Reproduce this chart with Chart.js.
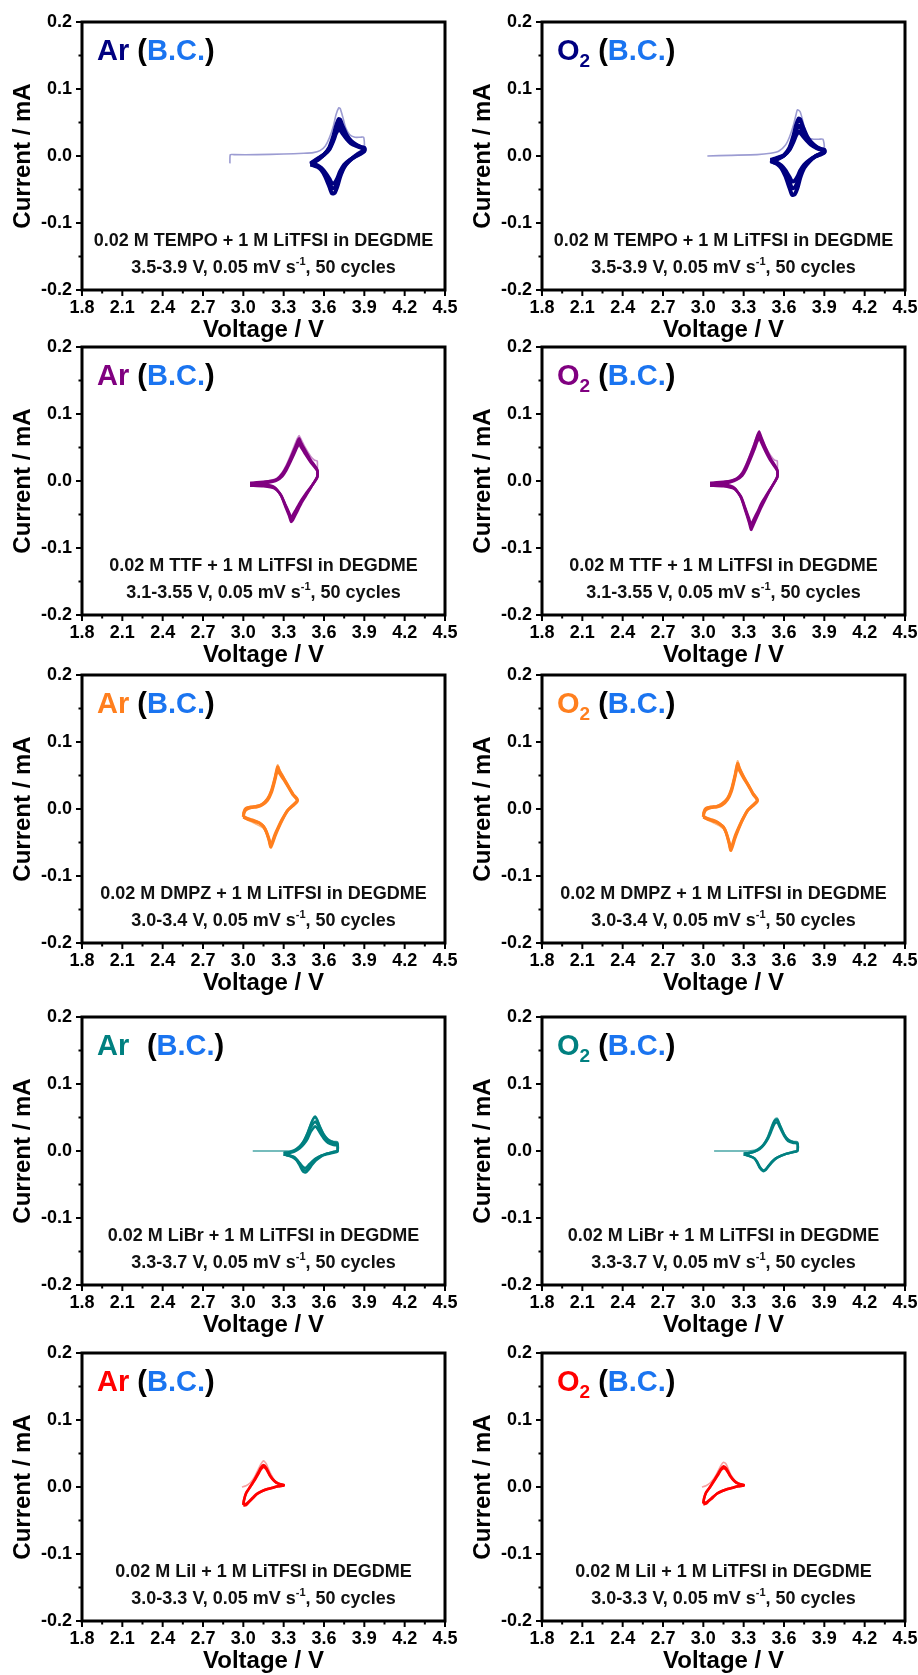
<!DOCTYPE html>
<html>
<head>
<meta charset="utf-8">
<title>CV of redox mediators under Ar and O2</title>
<script src="https://cdn.jsdelivr.net/npm/chart.js@4.4.1/dist/chart.umd.min.js"></script>
<style>
  html, body { margin: 0; padding: 0; background: #fff; }
  #grid { position: relative; width: 918px; height: 1675px; overflow: hidden; }
  .cell { position: absolute; width: 459px; height: 345px; }
  .cell canvas { display: block; }
</style>
</head>
<body>
<div id="grid"></div>
<script>
const FONT = "'Liberation Sans', Arial, Helvetica, sans-serif";

// Axis ticks shared by all ten panels
const xTicks = [1.8, 2.1, 2.4, 2.7, 3.0, 3.3, 3.6, 3.9, 4.2, 4.5];
const xMinorTicks = [1.95, 2.25, 2.55, 2.85, 3.15, 3.45, 3.75, 4.05, 4.35];
const yTicks = [-0.2, -0.1, 0.0, 0.1, 0.2];
const yMinorTicks = [-0.15, -0.05, 0.05, 0.15];

// One row per mediator, one column per gas
const mediators = ['TEMPO', 'TTF', 'DMPZ', 'LiBr', 'LiI'];
const sweepWindows = ['3.5-3.9 V', '3.1-3.55 V', '3.0-3.4 V', '3.3-3.7 V', '3.0-3.3 V'];
const gases = ['Ar', 'O2'];
const darkColors = ['#000080', '#800080', '#ff7f1e', '#008080', '#ff0000'];
const lightColors = ['#9c9cd2', '#c88ec8', '#fbb47c', '#4aa6a6', '#f7a0a0'];
const bcColor = '#1a74f0';

// ---- TEMPO, 3.5-3.9 V (forward sweep then reverse sweep) ----
const tempoLoopV = [3.50, 3.53, 3.56, 3.60, 3.64, 3.67, 3.69, 3.71, 3.72, 3.74, 3.77, 3.80, 3.84, 3.88, 3.90,
                    3.90, 3.87, 3.83, 3.79, 3.75, 3.72, 3.70, 3.68, 3.66, 3.64, 3.61, 3.58, 3.55, 3.52, 3.50];
const tempoArCycles = [
  [-0.013, -0.009, -0.005, 0.002, 0.013, 0.030, 0.045, 0.055, 0.054, 0.044, 0.031, 0.023, 0.017, 0.013, 0.012,
   0.009, 0.005, 0.000, -0.007, -0.017, -0.031, -0.045, -0.055, -0.056, -0.046, -0.031, -0.021, -0.016, -0.014, -0.013],
  [-0.012, -0.008, -0.004, 0.002, 0.011, 0.026, 0.039, 0.047, 0.046, 0.038, 0.028, 0.021, 0.016, 0.013, 0.012,
   0.008, 0.004, -0.001, -0.007, -0.015, -0.027, -0.039, -0.047, -0.048, -0.040, -0.028, -0.019, -0.015, -0.013, -0.012],
  [-0.011, -0.007, -0.003, 0.002, 0.010, 0.023, 0.034, 0.040, 0.039, 0.033, 0.025, 0.019, 0.015, 0.012, 0.011,
   0.007, 0.003, -0.001, -0.006, -0.013, -0.023, -0.033, -0.040, -0.041, -0.034, -0.025, -0.018, -0.014, -0.012, -0.011]
];
const tempoArFirstV = [2.90, 2.903, 2.93, 3.10, 3.30, 3.45, 3.52, 3.57, 3.61, 3.64, 3.67, 3.69, 3.71, 3.72, 3.74, 3.76, 3.79, 3.83, 3.87, 3.895, 3.90, 3.88, 3.84];
const tempoArFirstI = [-0.011, 0.002, 0.002, 0.002, 0.003, 0.004, 0.005, 0.008, 0.015, 0.027, 0.045, 0.062, 0.072, 0.071, 0.058, 0.043, 0.032, 0.028, 0.028, 0.028, 0.014, 0.009, 0.004];
const tempoO2Cycles = [
  [-0.008, -0.006, -0.004, 0.001, 0.012, 0.030, 0.046, 0.056, 0.055, 0.044, 0.030, 0.021, 0.014, 0.010, 0.009,
   0.006, 0.003, -0.001, -0.008, -0.018, -0.033, -0.048, -0.057, -0.058, -0.047, -0.030, -0.018, -0.012, -0.009, -0.008],
  [-0.007, -0.005, -0.003, 0.001, 0.010, 0.025, 0.038, 0.045, 0.044, 0.036, 0.026, 0.019, 0.013, 0.010, 0.009,
   0.006, 0.003, -0.001, -0.007, -0.015, -0.027, -0.039, -0.047, -0.048, -0.039, -0.026, -0.016, -0.011, -0.009, -0.007],
  [-0.006, -0.004, -0.002, 0.001, 0.009, 0.021, 0.031, 0.036, 0.035, 0.030, 0.023, 0.017, 0.012, 0.009, 0.008,
   0.005, 0.002, -0.001, -0.006, -0.013, -0.022, -0.031, -0.037, -0.038, -0.031, -0.021, -0.014, -0.010, -0.008, -0.006]
];
const tempoO2FirstV = [3.03, 3.20, 3.40, 3.50, 3.56, 3.61, 3.64, 3.67, 3.69, 3.70, 3.72, 3.74, 3.76, 3.78, 3.82, 3.86, 3.89, 3.90, 3.88, 3.84];
const tempoO2FirstI = [0.000, 0.001, 0.002, 0.004, 0.007, 0.016, 0.028, 0.046, 0.062, 0.069, 0.066, 0.052, 0.036, 0.027, 0.025, 0.025, 0.025, 0.012, 0.007, 0.002];

// ---- TTF, 3.05-3.55 V ----
const ttfLoopV = [3.05, 3.10, 3.15, 3.20, 3.25, 3.29, 3.32, 3.35, 3.38, 3.40, 3.415, 3.43, 3.46, 3.50, 3.55,
                  3.55, 3.52, 3.49, 3.46, 3.43, 3.41, 3.39, 3.37, 3.355, 3.34, 3.31, 3.28, 3.23, 3.15, 3.05];
const ttfArCycles = [
  [-0.003, -0.002, -0.001, 0.000, 0.003, 0.011, 0.021, 0.034, 0.048, 0.058, 0.064, 0.057, 0.046, 0.032, 0.017,
   0.007, -0.004, -0.014, -0.024, -0.034, -0.042, -0.050, -0.058, -0.061, -0.052, -0.037, -0.022, -0.009, -0.005, -0.004],
  [-0.004, -0.003, -0.002, -0.001, 0.002, 0.009, 0.019, 0.031, 0.044, 0.054, 0.059, 0.053, 0.043, 0.030, 0.016,
   0.006, -0.004, -0.013, -0.022, -0.031, -0.039, -0.046, -0.054, -0.057, -0.049, -0.035, -0.021, -0.010, -0.006, -0.005],
  [-0.006, -0.005, -0.004, -0.002, 0.001, 0.007, 0.016, 0.028, 0.041, 0.050, 0.055, 0.050, 0.040, 0.028, 0.015,
   0.005, -0.004, -0.012, -0.020, -0.029, -0.036, -0.043, -0.050, -0.054, -0.047, -0.034, -0.021, -0.011, -0.008, -0.007]
];
const ttfFirstV = [3.05, 3.15, 3.25, 3.29, 3.32, 3.35, 3.38, 3.40, 3.415, 3.43, 3.46, 3.50, 3.53, 3.55, 3.55];
const ttfArFirstI = [-0.002, -0.001, 0.004, 0.013, 0.024, 0.038, 0.053, 0.063, 0.068, 0.062, 0.050, 0.037, 0.031, 0.030, 0.010];
const ttfO2Cycles = [
  [-0.003, -0.002, -0.001, 0.000, 0.004, 0.012, 0.024, 0.039, 0.055, 0.067, 0.074, 0.066, 0.051, 0.034, 0.017,
   0.007, -0.005, -0.016, -0.028, -0.040, -0.049, -0.058, -0.067, -0.073, -0.062, -0.043, -0.025, -0.010, -0.005, -0.004],
  [-0.004, -0.003, -0.002, -0.001, 0.003, 0.010, 0.021, 0.036, 0.051, 0.063, 0.069, 0.062, 0.048, 0.032, 0.016,
   0.006, -0.005, -0.015, -0.026, -0.037, -0.046, -0.055, -0.063, -0.069, -0.059, -0.041, -0.024, -0.011, -0.006, -0.005],
  [-0.006, -0.005, -0.004, -0.002, 0.002, 0.008, 0.018, 0.032, 0.047, 0.058, 0.064, 0.058, 0.045, 0.030, 0.015,
   0.005, -0.005, -0.014, -0.024, -0.034, -0.043, -0.051, -0.059, -0.065, -0.056, -0.039, -0.023, -0.012, -0.008, -0.007]
];
const ttfO2FirstI = [-0.002, -0.001, 0.004, 0.014, 0.026, 0.041, 0.057, 0.068, 0.072, 0.066, 0.052, 0.038, 0.031, 0.030, 0.010];

// ---- DMPZ, 3.0-3.4 V ----
const dmpzLoopV = [3.00, 3.005, 3.02, 3.06, 3.10, 3.14, 3.18, 3.21, 3.235, 3.255, 3.27, 3.30, 3.34, 3.37, 3.40,
                   3.40, 3.37, 3.33, 3.29, 3.26, 3.235, 3.205, 3.19, 3.17, 3.15, 3.12, 3.09, 3.06, 3.03, 3.00];
const dmpzArCycles = [
  [-0.011, -0.004, 0.001, 0.003, 0.004, 0.007, 0.015, 0.028, 0.046, 0.063, 0.056, 0.046, 0.032, 0.022, 0.015,
   0.012, 0.006, -0.002, -0.016, -0.029, -0.041, -0.057, -0.046, -0.034, -0.026, -0.021, -0.018, -0.016, -0.014, -0.011],
  [-0.012, -0.006, -0.001, 0.002, 0.003, 0.006, 0.013, 0.025, 0.043, 0.059, 0.053, 0.044, 0.031, 0.021, 0.014,
   0.011, 0.005, -0.002, -0.015, -0.027, -0.038, -0.054, -0.044, -0.033, -0.026, -0.021, -0.019, -0.017, -0.015, -0.012]
];
const dmpzArFirstI = [-0.008, -0.002, 0.002, 0.004, 0.005, 0.008, 0.016, 0.030, 0.049, 0.066, 0.059, 0.048, 0.033, 0.023, 0.016,
                      0.013, 0.007, -0.001, -0.015, -0.028, -0.040, -0.056, -0.047, -0.036, -0.029, -0.025, -0.022, -0.019, -0.016, -0.013];
const dmpzO2Cycles = [
  [-0.011, -0.004, 0.001, 0.003, 0.004, 0.008, 0.016, 0.030, 0.050, 0.068, 0.060, 0.048, 0.034, 0.023, 0.015,
   0.012, 0.006, -0.002, -0.017, -0.031, -0.044, -0.062, -0.050, -0.036, -0.027, -0.022, -0.018, -0.016, -0.014, -0.011],
  [-0.012, -0.006, -0.001, 0.002, 0.003, 0.006, 0.014, 0.027, 0.047, 0.064, 0.057, 0.046, 0.033, 0.022, 0.014,
   0.011, 0.005, -0.002, -0.016, -0.029, -0.041, -0.059, -0.048, -0.035, -0.027, -0.022, -0.019, -0.017, -0.015, -0.012]
];
const dmpzO2FirstI = [-0.008, -0.002, 0.002, 0.004, 0.005, 0.009, 0.017, 0.032, 0.053, 0.072, 0.063, 0.050, 0.035, 0.024, 0.016,
                      0.013, 0.007, -0.001, -0.016, -0.030, -0.043, -0.061, -0.051, -0.038, -0.030, -0.025, -0.022, -0.019, -0.016, -0.013];

// ---- LiBr, 3.3-3.7 V ----
const libRLoopV = [3.30, 3.34, 3.38, 3.42, 3.45, 3.48, 3.50, 3.52, 3.535, 3.55, 3.57, 3.60, 3.63, 3.67, 3.70,
                   3.70, 3.66, 3.62, 3.58, 3.54, 3.51, 3.485, 3.465, 3.445, 3.42, 3.40, 3.38, 3.35, 3.32, 3.30];
const libRArCycles = [
  [-0.003, -0.002, 0.001, 0.007, 0.015, 0.028, 0.039, 0.048, 0.051, 0.046, 0.036, 0.024, 0.017, 0.013, 0.012,
   0.001, -0.002, -0.004, -0.008, -0.014, -0.021, -0.028, -0.032, -0.031, -0.022, -0.015, -0.011, -0.008, -0.006, -0.005],
  [-0.003, -0.002, 0.000, 0.006, 0.013, 0.024, 0.034, 0.041, 0.044, 0.040, 0.032, 0.021, 0.015, 0.011, 0.010,
   0.000, -0.002, -0.004, -0.007, -0.013, -0.019, -0.025, -0.029, -0.028, -0.020, -0.014, -0.010, -0.007, -0.006, -0.005],
  [-0.004, -0.003, -0.001, 0.004, 0.010, 0.019, 0.028, 0.034, 0.037, 0.034, 0.027, 0.018, 0.012, 0.009, 0.008,
   -0.001, -0.003, -0.005, -0.007, -0.011, -0.016, -0.021, -0.025, -0.024, -0.018, -0.013, -0.009, -0.007, -0.006, -0.005]
];
const libRArFirstV = [3.07, 3.15, 3.25, 3.30, 3.34, 3.38, 3.42, 3.45, 3.48, 3.50, 3.52, 3.535, 3.55, 3.57, 3.60, 3.63, 3.67, 3.70, 3.70];
const libRArFirstI = [0.000, 0.000, 0.000, 0.000, 0.000, 0.002, 0.008, 0.016, 0.029, 0.040, 0.049, 0.052, 0.048, 0.037, 0.025, 0.018, 0.014, 0.014, 0.003];
const libRO2Cycles = [
  [-0.004, -0.003, -0.001, 0.004, 0.010, 0.020, 0.030, 0.041, 0.046, 0.047, 0.038, 0.025, 0.017, 0.013, 0.012,
   0.001, -0.002, -0.004, -0.007, -0.011, -0.017, -0.023, -0.028, -0.030, -0.025, -0.017, -0.011, -0.008, -0.006, -0.005],
  [-0.004, -0.003, -0.001, 0.003, 0.009, 0.018, 0.027, 0.037, 0.042, 0.043, 0.035, 0.023, 0.015, 0.012, 0.011,
   0.000, -0.002, -0.004, -0.007, -0.011, -0.016, -0.022, -0.027, -0.029, -0.024, -0.016, -0.011, -0.008, -0.006, -0.005]
];
const libRO2FirstV = [3.08, 3.15, 3.25, 3.30, 3.34, 3.38, 3.42, 3.45, 3.48, 3.50, 3.52, 3.535, 3.55, 3.57, 3.60, 3.63, 3.67, 3.70, 3.70];
const libRO2FirstI = [0.000, 0.000, 0.000, 0.000, 0.000, 0.001, 0.005, 0.011, 0.022, 0.033, 0.043, 0.048, 0.049, 0.040, 0.026, 0.018, 0.014, 0.014, 0.003];

// ---- LiI, 3.0-3.3 V ----
const liILoopV = [3.00, 3.005, 3.02, 3.05, 3.08, 3.11, 3.13, 3.15, 3.17, 3.20, 3.23, 3.26, 3.30,
                  3.30, 3.26, 3.22, 3.18, 3.14, 3.10, 3.07, 3.04, 3.02, 3.00];
const liIArCycles = [
  [-0.027, -0.020, -0.010, 0.000, 0.010, 0.021, 0.029, 0.033, 0.029, 0.017, 0.009, 0.005, 0.003,
   0.002, 0.001, -0.001, -0.003, -0.006, -0.011, -0.017, -0.023, -0.027, -0.028],
  [-0.026, -0.019, -0.009, 0.000, 0.009, 0.019, 0.026, 0.030, 0.027, 0.016, 0.009, 0.005, 0.003,
   0.002, 0.001, -0.001, -0.003, -0.006, -0.010, -0.016, -0.022, -0.025, -0.026]
];
const liIFirstV = [2.99, 3.02, 3.05, 3.08, 3.11, 3.13, 3.15, 3.17, 3.20, 3.23, 3.26, 3.30];
const liIArFirstI = [0.000, 0.002, 0.006, 0.014, 0.026, 0.034, 0.039, 0.035, 0.021, 0.011, 0.006, 0.004];
const liIO2Cycles = [
  [-0.025, -0.018, -0.009, 0.000, 0.010, 0.020, 0.027, 0.031, 0.028, 0.017, 0.009, 0.005, 0.003,
   0.002, 0.001, -0.001, -0.003, -0.006, -0.010, -0.016, -0.021, -0.025, -0.026],
  [-0.024, -0.017, -0.008, 0.000, 0.009, 0.018, 0.025, 0.028, 0.026, 0.016, 0.009, 0.005, 0.003,
   0.002, 0.001, -0.001, -0.003, -0.006, -0.010, -0.015, -0.020, -0.023, -0.024]
];
const liIO2FirstI = [0.000, 0.002, 0.006, 0.013, 0.024, 0.032, 0.037, 0.034, 0.020, 0.011, 0.006, 0.004];

// panel layout: plot-area top edge of each row, left edge of each column
const rowTops = [22, 347, 675, 1017, 1353];
const colLefts = [0, 460];
const lineWidths = [4, 2.5, 3, 2.5, 2.5];

const panels = [
  { row: 0, gas: 0, loopV: tempoLoopV, cycles: tempoArCycles, firstV: tempoArFirstV, firstI: tempoArFirstI },
  { row: 0, gas: 1, loopV: tempoLoopV, cycles: tempoO2Cycles, firstV: tempoO2FirstV, firstI: tempoO2FirstI },
  { row: 1, gas: 0, loopV: ttfLoopV, cycles: ttfArCycles, firstV: ttfFirstV, firstI: ttfArFirstI },
  { row: 1, gas: 1, loopV: ttfLoopV, cycles: ttfO2Cycles, firstV: ttfFirstV, firstI: ttfO2FirstI },
  { row: 2, gas: 0, loopV: dmpzLoopV, cycles: dmpzArCycles, firstV: dmpzLoopV, firstI: dmpzArFirstI },
  { row: 2, gas: 1, loopV: dmpzLoopV, cycles: dmpzO2Cycles, firstV: dmpzLoopV, firstI: dmpzO2FirstI },
  { row: 3, gas: 0, loopV: libRLoopV, cycles: libRArCycles, firstV: libRArFirstV, firstI: libRArFirstI, wideGap: true },
  { row: 3, gas: 1, loopV: libRLoopV, cycles: libRO2Cycles, firstV: libRO2FirstV, firstI: libRO2FirstI },
  { row: 4, gas: 0, loopV: liILoopV, cycles: liIArCycles, firstV: liIFirstV, firstI: liIArFirstI },
  { row: 4, gas: 1, loopV: liILoopV, cycles: liIO2Cycles, firstV: liIFirstV, firstI: liIO2FirstI }
];

if (typeof Chart !== 'undefined') {
  Chart.defaults.font.family = FONT;
  Chart.defaults.color = '#000';
}

// Box frame plus outward major/minor ticks on the left and bottom edges
const framePlugin = {
  id: 'cvFrame',
  afterDatasetsDraw(chart) {
    const { ctx, chartArea: a, scales: { x, y } } = chart;
    ctx.save();
    ctx.strokeStyle = '#000';
    ctx.lineWidth = 2;
    ctx.beginPath();
    xTicks.forEach(v => { const px = x.getPixelForValue(v); ctx.moveTo(px, a.bottom); ctx.lineTo(px, a.bottom + 6); });
    xMinorTicks.forEach(v => { const px = x.getPixelForValue(v); ctx.moveTo(px, a.bottom); ctx.lineTo(px, a.bottom + 3.5); });
    yTicks.forEach(v => { const py = y.getPixelForValue(v); ctx.moveTo(a.left, py); ctx.lineTo(a.left - 6, py); });
    yMinorTicks.forEach(v => { const py = y.getPixelForValue(v); ctx.moveTo(a.left, py); ctx.lineTo(a.left - 3.5, py); });
    ctx.stroke();
    ctx.lineWidth = 3;
    ctx.strokeRect(a.left, a.top, a.right - a.left, a.bottom - a.top);
    ctx.restore();
  }
};

// "Ar (B.C.)" heading and the two-line electrolyte note
function drawPanelText(chart, p) {
  const { ctx, chartArea: a } = chart;
  ctx.save();
  ctx.textAlign = 'left';
  ctx.textBaseline = 'alphabetic';

  const big = `bold 29px ${FONT}`;
  let xPos = a.left + 15;
  const base = a.top + 38;
  ctx.font = big;
  ctx.fillStyle = darkColors[p.row];
  if (gases[p.gas] === 'O2') {
    ctx.fillText('O', xPos, base);
    xPos += ctx.measureText('O').width;
    ctx.font = `bold 19px ${FONT}`;
    ctx.fillText('2', xPos, base + 7);
    xPos += ctx.measureText('2').width;
    ctx.font = big;
  } else {
    ctx.fillText('Ar', xPos, base);
    xPos += ctx.measureText('Ar').width;
  }
  xPos += ctx.measureText(' ').width * (p.wideGap ? 2.2 : 1);
  ctx.fillStyle = '#000';
  ctx.fillText('(', xPos, base);
  xPos += ctx.measureText('(').width;
  ctx.fillStyle = bcColor;
  ctx.fillText('B.C.', xPos, base);
  xPos += ctx.measureText('B.C.').width;
  ctx.fillStyle = '#000';
  ctx.fillText(')', xPos, base);

  const cx = (a.left + a.right) / 2;
  const note = `bold 18px ${FONT}`;
  const sup = `bold 11px ${FONT}`;
  ctx.fillStyle = '#111';
  ctx.textBaseline = 'middle';
  ctx.font = note;
  const line1 = `0.02 M ${mediators[p.row]} + 1 M LiTFSI in DEGDME`;
  ctx.fillText(line1, cx - ctx.measureText(line1).width / 2, a.top + 219);

  const partA = `${sweepWindows[p.row]}, 0.05 mV s`;
  const partB = '-1';
  const partC = ', 50 cycles';
  const wA = ctx.measureText(partA).width;
  const wC = ctx.measureText(partC).width;
  ctx.font = sup;
  const wB = ctx.measureText(partB).width;
  let x2 = cx - (wA + wB + wC) / 2;
  const y2 = a.top + 246;
  ctx.font = note;
  ctx.fillText(partA, x2, y2);
  x2 += wA;
  ctx.font = sup;
  ctx.fillText(partB, x2, y2 - 6);
  x2 += wB;
  ctx.font = note;
  ctx.fillText(partC, x2, y2);
  ctx.restore();
}

const grid = document.getElementById('grid');

panels.forEach(p => {
  const cell = document.createElement('div');
  cell.className = 'cell';
  cell.style.left = colLefts[p.gas] + 'px';
  cell.style.top = (rowTops[p.row] - 22) + 'px';
  const canvas = document.createElement('canvas');
  canvas.width = 459;
  canvas.height = 345;
  cell.appendChild(canvas);
  grid.appendChild(cell);
  if (typeof Chart === 'undefined') return;

  const lineStyle = { showLine: true, pointRadius: 0, tension: 0.2, fill: false };
  const datasets = p.cycles.map(cur => ({
    ...lineStyle,
    data: p.loopV.map((v, i) => ({ x: v, y: cur[i] })),
    borderColor: darkColors[p.row],
    borderWidth: lineWidths[p.row]
  }));
  // first cycle goes last so it sits underneath the later cycles
  datasets.push({
    ...lineStyle,
    data: p.firstV.map((v, i) => ({ x: v, y: p.firstI[i] })),
    borderColor: lightColors[p.row],
    borderWidth: 1.6
  });

  new Chart(canvas, {
    type: 'scatter',
    data: { datasets },
    options: {
      responsive: false,
      animation: false,
      events: [],
      layout: { padding: { left: 0, right: 14, top: 22, bottom: 0 } },
      plugins: { legend: { display: false }, tooltip: { enabled: false } },
      scales: {
        x: {
          type: 'linear', min: 1.8, max: 4.5,
          afterBuildTicks: s => { s.ticks = xTicks.map(v => ({ value: v })); },
          afterFit: s => { s.height = 55; },
          grid: { display: false, drawTicks: true, tickLength: 6 },
          border: { display: false },
          ticks: { font: { size: 18, weight: 'bold' }, color: '#000', padding: 1, maxRotation: 0, autoSkip: false,
                   callback: v => Number(v).toFixed(1) },
          title: { display: true, text: 'Voltage / V', color: '#000',
                   font: { size: 24, weight: 'bold' }, padding: { top: 0, bottom: 0 } }
        },
        y: {
          type: 'linear', min: -0.2, max: 0.2,
          afterBuildTicks: s => { s.ticks = yTicks.map(v => ({ value: v })); },
          afterFit: s => { s.width = 82; },
          grid: { display: false, drawTicks: true, tickLength: 6 },
          border: { display: false },
          ticks: { font: { size: 18, weight: 'bold' }, color: '#000', padding: 4,
                   callback: v => Number(v).toFixed(1) },
          title: { display: true, text: 'Current / mA', color: '#000',
                   font: { size: 24, weight: 'bold' }, padding: { top: 9, bottom: 0 } }
        }
      }
    },
    plugins: [framePlugin, { id: 'cvText', afterDraw: chart => drawPanelText(chart, p) }]
  });
});
</script>
</body>
</html>
